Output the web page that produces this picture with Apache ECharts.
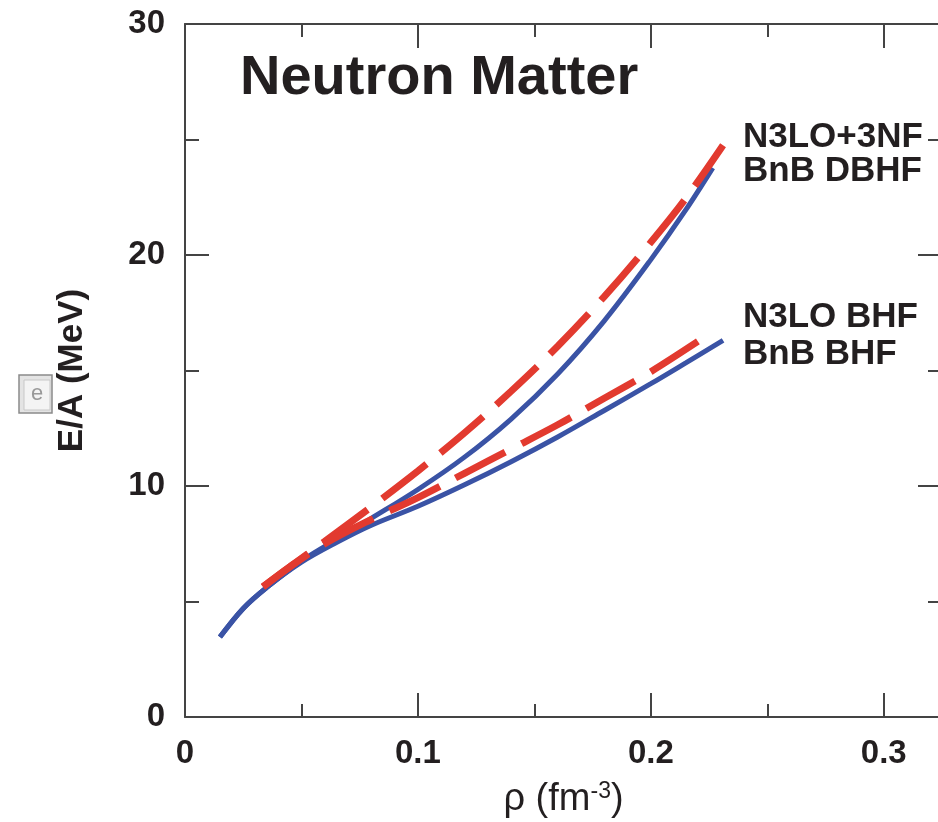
<!DOCTYPE html>
<html>
<head>
<meta charset="utf-8">
<script src="https://cdn.jsdelivr.net/npm/echarts@6/dist/echarts.min.js"></script>
<style>
  html, body { margin: 0; padding: 0; background: #fff; }
  #main { width: 938px; height: 822px; }
</style>
</head>
<body>
<div id="main"></div>
<script>
// density rho (fm^-3) and E/A (MeV)
var dbhfRho = [0.015, 0.025, 0.035, 0.05, 0.065, 0.08, 0.1, 0.12, 0.14, 0.16, 0.18, 0.2, 0.215, 0.2266];
var dbhfE   = [3.46, 4.7, 5.6, 6.75, 7.68, 8.6, 9.85, 11.25, 12.9, 14.85, 17.15, 19.8, 21.95, 23.77];

var bnbBhfRho = [0.015, 0.025, 0.035, 0.05, 0.065, 0.08, 0.1, 0.12, 0.14, 0.16, 0.18, 0.2, 0.215, 0.231];
var bnbBhfE   = [3.46, 4.7, 5.6, 6.7, 7.55, 8.3, 9.12, 10.05, 11.05, 12.12, 13.27, 14.43, 15.33, 16.3];

var n3lo3nfRho = [0.0335, 0.045, 0.06, 0.08, 0.1, 0.12, 0.14, 0.16, 0.18, 0.2, 0.215, 0.231];
var n3lo3nfE   = [5.65, 6.5, 7.6, 9.1, 10.65, 12.3, 14.1, 16.05, 18.2, 20.55, 22.45, 24.75];

var n3loBhfRho = [0.0335, 0.045, 0.06, 0.08, 0.1, 0.12, 0.14, 0.16, 0.18, 0.2, 0.2253];
var n3loBhfE   = [5.63, 6.5, 7.5, 8.55, 9.5, 10.55, 11.6, 12.65, 13.8, 14.95, 16.6];

var xTicks = [0, 0.1, 0.2, 0.3];
var yTicks = [0, 10, 20, 30];

function pairs(xs, ys) {
  return xs.map(function (x, i) { return [x, ys[i]]; });
}

var RED = '#e23a2f';
var BLUE = '#3a53a5';
var AXIS = '#444';
var INK = '#231f20';
var FONT = '"Liberation Sans", Arial, sans-serif';

// major and minor x ticks need different lengths, so each side gets two axes
function xAx(pos, interval, len, main) {
  return {
    type: 'value', position: pos, min: 0, max: 0.325, interval: interval,
    axisLine: { show: main, onZero: false, lineStyle: { color: AXIS, width: 2 } },
    axisTick: { show: true, inside: true, length: len, lineStyle: { color: AXIS, width: 2 } },
    axisLabel: {
      show: main && pos === 'bottom', showMaxLabel: false, margin: 20,
      fontFamily: FONT, fontWeight: 'bold', fontSize: 33, color: INK,
      formatter: function (v) { return xTicks.indexOf(v) >= 0 ? String(v) : ''; }
    },
    splitLine: { show: false },
    name: main && pos === 'bottom' ? '{a|ρ (fm}{s|-3}{a|)}' : '',
    nameLocation: 'middle', nameGap: 63,
    nameTextStyle: {
      rich: {
        a: { fontFamily: FONT, fontSize: 38, color: INK, lineHeight: 40 },
        s: { fontFamily: FONT, fontSize: 23, color: INK, lineHeight: 40, verticalAlign: 'top', padding: [0, 0, 20, 0] }
      }
    }
  };
}

function yAx(pos) {
  return {
    type: 'value', position: pos, min: 0, max: 30, interval: 10,
    axisLine: { show: true, onZero: false, lineStyle: { color: AXIS, width: 2 } },
    axisTick: { show: true, inside: true, length: 24, lineStyle: { color: AXIS, width: 2 } },
    minorTick: { show: true, splitNumber: 2, length: 14, lineStyle: { color: AXIS, width: 2 } },
    axisLabel: {
      show: pos === 'left', margin: 20,
      fontFamily: FONT, fontWeight: 'bold', fontSize: 33, color: INK,
      formatter: function (v) { return yTicks.indexOf(v) >= 0 ? String(v) : ''; }
    },
    splitLine: { show: false },
    name: pos === 'left' ? 'E/A (MeV)' : '',
    nameLocation: 'middle', nameGap: 95, nameRotate: 90,
    nameTextStyle: { fontFamily: FONT, fontWeight: 'bold', fontSize: 35, color: INK }
  };
}

function curve(name, data, color, width, dashed) {
  return {
    name: name, type: 'line', data: data, smooth: 0.35, showSymbol: false,
    xAxisIndex: 0, yAxisIndex: 0, z: dashed ? 3 : 2,
    lineStyle: { color: color, width: width, type: dashed ? [56, 18] : 'solid', cap: 'butt' }
  };
}

var chart = echarts.init(document.getElementById('main'));
chart.setOption({
  animation: false,
  backgroundColor: '#fff',
  grid: { left: 185, top: 24, width: 757, height: 693, outerBoundsMode: 'none', containLabel: false },
  xAxis: [
    xAx('bottom', 0.1, 24, true),
    xAx('bottom', 0.05, 13, false),
    xAx('top', 0.1, 24, true),
    xAx('top', 0.05, 13, false)
  ],
  yAxis: [yAx('left'), yAx('right')],
  series: [
    curve('BnB DBHF', pairs(dbhfRho, dbhfE), BLUE, 5, false),
    curve('BnB BHF', pairs(bnbBhfRho, bnbBhfE), BLUE, 5, false),
    curve('N3LO+3NF', pairs(n3lo3nfRho, n3lo3nfE), RED, 7, true),
    curve('N3LO BHF', pairs(n3loBhfRho, n3loBhfE), RED, 7, true)
  ],
  graphic: [
    { type: 'text', left: 240, top: 51, style: { text: 'Neutron Matter', font: 'bold 56px ' + FONT, fill: INK } },
    { type: 'text', left: 743, top: 120, style: { text: 'N3LO+3NF', font: 'bold 35px ' + FONT, fill: INK } },
    { type: 'text', left: 743, top: 154, style: { text: 'BnB DBHF', font: 'bold 35px ' + FONT, fill: INK } },
    { type: 'text', left: 743, top: 300, style: { text: 'N3LO BHF', font: 'bold 35px ' + FONT, fill: INK } },
    { type: 'text', left: 743, top: 337, style: { text: 'BnB BHF', font: 'bold 35px ' + FONT, fill: INK } },
    { type: 'rect', shape: { x: 19, y: 375, width: 33, height: 38 }, style: { fill: '#e4e4e4', stroke: '#8a8a8a', lineWidth: 1.5 } },
    { type: 'rect', shape: { x: 24, y: 380, width: 26, height: 30 }, style: { fill: '#f4f4f4', stroke: '#c8c8c8', lineWidth: 1 } },
    { type: 'text', x: 37, y: 394, style: { text: 'e', font: '22px ' + FONT, fill: '#999', align: 'center', verticalAlign: 'middle' } }
  ]
});
</script>
</body>
</html>
